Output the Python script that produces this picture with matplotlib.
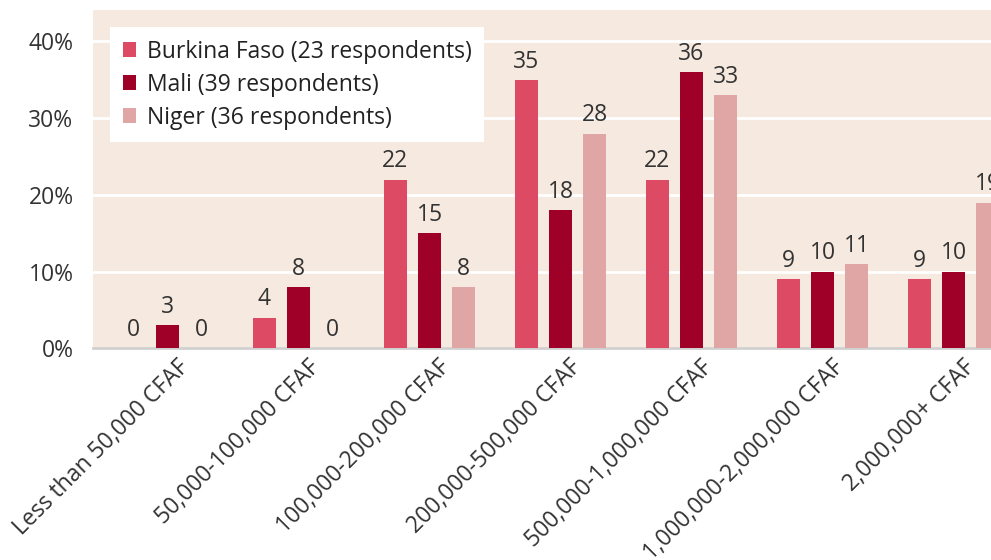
import matplotlib.pyplot as plt
import matplotlib.transforms as mtransforms
import numpy as np

plt.rcParams['font.family'] = ['Open Sans', 'DejaVu Sans']

categories = ['Less than 50,000 CFAF', '50,000-100,000 CFAF', '100,000-200,000 CFAF',
              '200,000-500,000 CFAF', '500,000-1,000,000 CFAF', '1,000,000-2,000,000 CFAF',
              '2,000,000+ CFAF']
series_names = ['Burkina Faso (23 respondents)', 'Mali (39 respondents)', 'Niger (36 respondents)']
burkina = [0, 4, 22, 35, 22, 9, 9]
mali = [3, 8, 15, 18, 36, 10, 10]
niger = [0, 0, 8, 28, 33, 11, 19]
colors = ['#dc4a63', '#9e0027', '#e0a5a5']

fig = plt.figure(figsize=(9.91, 5.6), dpi=100)
ax = fig.add_axes([93 / 991, (560 - 348.3) / 560, 898 / 991, 338.3 / 560])
ax.set_facecolor('#f6e9e0')

x = np.arange(len(categories))
step = 0.26
width = 0.176
for i, (vals, c, name) in enumerate(zip([burkina, mali, niger], colors, series_names)):
    pos = x + (i - 1) * step
    ax.bar(pos, vals, width, color=c, label=name, zorder=3)
    for p, v in zip(pos, vals):
        ax.text(p, v + 0.8, f'{v:d}', ha='center', va='bottom',
                fontsize=16.5, color='#333333', zorder=4)

ax.set_xlim(-0.569, 6.286)
ax.set_ylim(0, 44.1)
ax.set_yticks([0, 10, 20, 30, 40])
ax.set_yticklabels(['0%', '10%', '20%', '30%', '40%'])
ax.yaxis.grid(True, color='white', linewidth=2, zorder=1)
ax.set_axisbelow(True)
ax.set_xticks(x)
ax.set_xticklabels(categories, rotation=45, ha='right', va='top', rotation_mode='anchor')
ax.tick_params(axis='both', length=0, labelsize=16.5, labelcolor='#333333')
ax.tick_params(axis='y', pad=14)
ax.tick_params(axis='x', pad=5)
shift = mtransforms.ScaledTranslation(9 / 100, 0, fig.dpi_scale_trans)
for lab in ax.get_xticklabels():
    lab.set_transform(lab.get_transform() + shift)

for s in ['top', 'right', 'left']:
    ax.spines[s].set_visible(False)
ax.spines['bottom'].set_color('#d0d0d0')
ax.spines['bottom'].set_linewidth(2)

leg = ax.legend(loc='upper left', bbox_to_anchor=(0.019, 0.95), borderaxespad=0,
                fontsize=16.5, frameon=True, fancybox=False, framealpha=1,
                edgecolor='white', handlelength=0.6, handleheight=0.6,
                handletextpad=0.45, labelspacing=0.4, borderpad=0.55,
                labelcolor='#222222')
leg.get_frame().set_linewidth(0)

fig.savefig('out.png', dpi=100, facecolor='white')
